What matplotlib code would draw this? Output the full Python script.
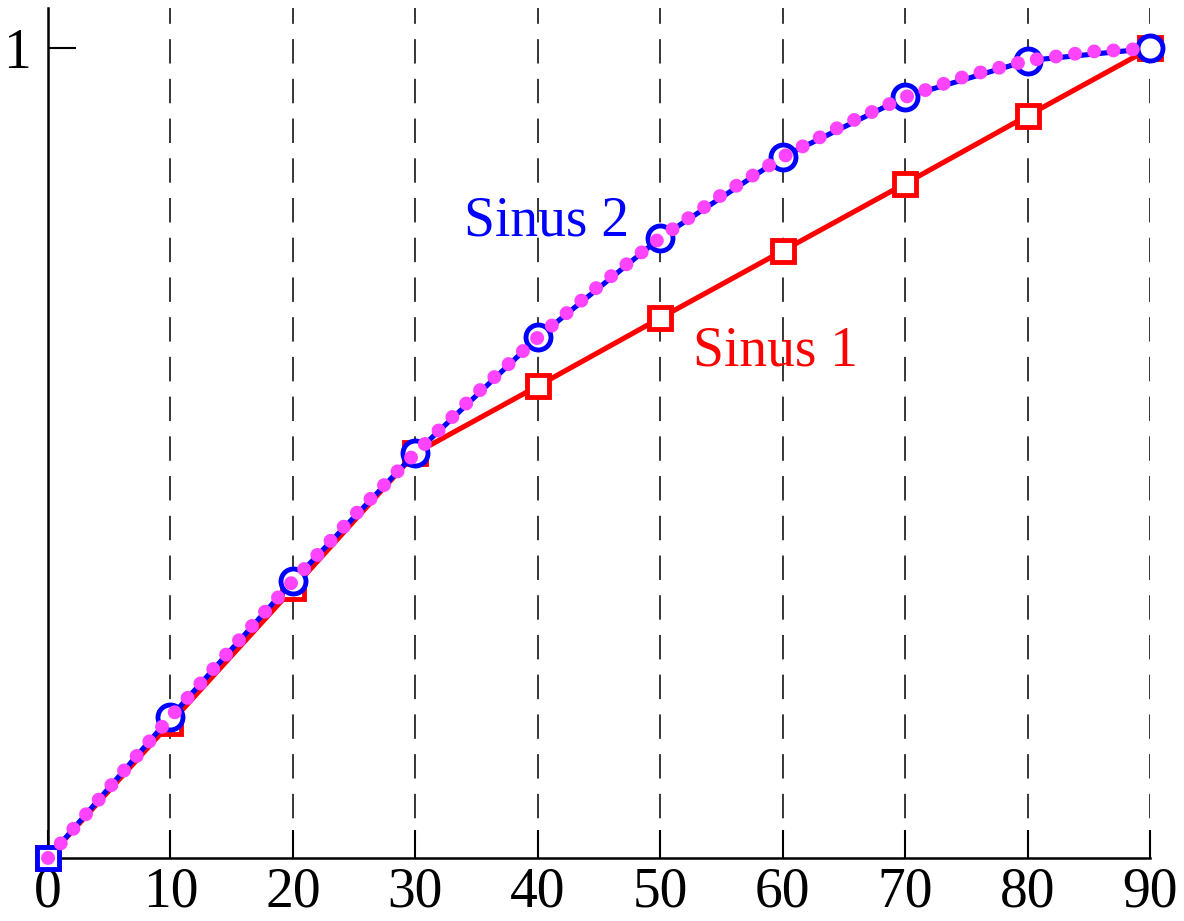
import matplotlib
matplotlib.use('Agg')
import matplotlib.pyplot as plt

plt.rcParams['font.family'] = ['Liberation Serif', 'DejaVu Serif']

# marker positions (degrees)
angles = [0, 10, 20, 30, 40, 50, 60, 70, 80, 90]
# Sinus 1: linear pieces
sinus1 = [0.0, 0.167, 0.333, 0.5, 0.583, 0.667, 0.75, 0.833, 0.917, 1.0]
# Sinus 2: blue circles
sinus2 = [0.0, 0.174, 0.342, 0.5, 0.643, 0.766, 0.866, 0.940, 0.985, 1.0]
# the dotted magenta curve, read every 5 degrees
curve_x = [0, 5, 10, 15, 20, 25, 30, 35, 40, 45, 50, 55, 60, 65, 70, 75, 80, 85, 90]
curve_y = [0.0, 0.087, 0.174, 0.259, 0.342, 0.423, 0.5, 0.574, 0.643, 0.707,
           0.766, 0.819, 0.866, 0.906, 0.940, 0.966, 0.985, 0.996, 1.0]

xticks = [0, 10, 20, 30, 40, 50, 60, 70, 80, 90]

red = '#ff0000'
blue = '#0000ff'
pink = '#ff44ff'

fig = plt.figure(figsize=(11.84, 9.21), dpi=100)
ax = fig.add_axes([48/1184, 63/921, 1102/1184, 850/921])

ax.plot(angles, sinus1, color=red, lw=3.7, marker='s', ms=15.5, mew=3.5,
        mfc='white', mec=red, zorder=3, clip_on=False)
ax.plot(angles, sinus2, color=blue, lw=3.7, zorder=4, clip_on=False)
ax.plot(angles[1:], sinus2[1:], ls='none', marker='o', ms=18, mew=3.5,
        mfc='white', mec=blue, zorder=4, clip_on=False)
ax.plot(angles[:1], sinus2[:1], ls='none', marker='s', ms=15.5, mew=3.5,
        mfc='white', mec=blue, zorder=4, clip_on=False)
ax.plot(curve_x, curve_y, color=pink, lw=10, ls=(0, (0.01, 1.38)),
        dash_capstyle='round', zorder=5, clip_on=False)

ax.text(34.0, 0.769, 'Sinus 2', color=blue, fontsize=40, zorder=2)
ax.text(52.7, 0.608, 'Sinus 1', color=red, fontsize=40, zorder=2)

ax.set_xlim(0, 90)
ax.set_ylim(0, 1.05)
ax.set_xticks(xticks)
ax.set_yticks([1])
ax.set_yticklabels(['1'])
ax.tick_params(axis='both', direction='in', length=20, width=1.5,
               labelsize=40, pad=6)
ax.tick_params(axis='y', pad=12)

ax.grid(axis='x', color='black', lw=1.1, ls=(0, (16, 10)), zorder=1)
ax.grid(axis='y', visible=False)

for side in ['top', 'right']:
    ax.spines[side].set_visible(False)
for side in ['left', 'bottom']:
    ax.spines[side].set_linewidth(1.8)

fig.savefig('out.png', dpi=100)
